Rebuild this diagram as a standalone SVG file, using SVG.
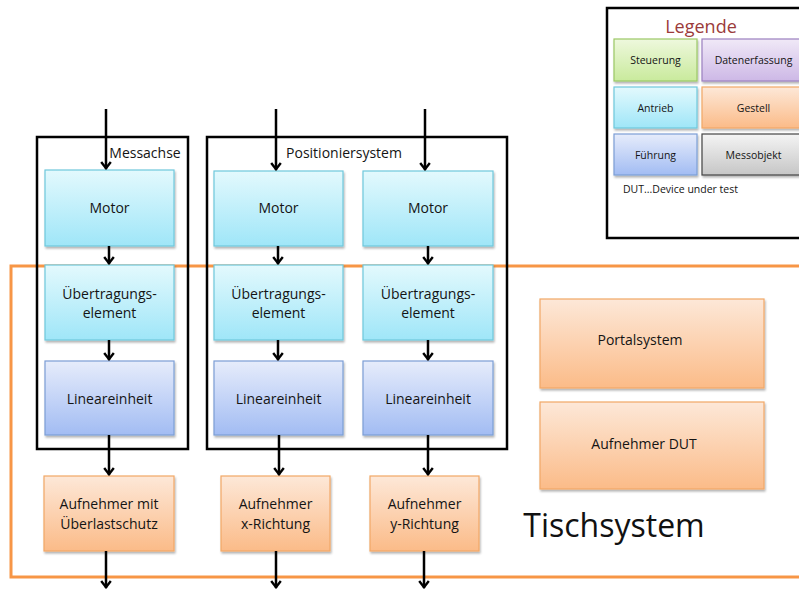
<svg xmlns="http://www.w3.org/2000/svg" width="799" height="589" viewBox="0 0 799 589">
  <defs>
    <linearGradient id="gCyan" x1="0" y1="0" x2="0" y2="1">
      <stop offset="0" stop-color="#e3f9fd"/>
      <stop offset="1" stop-color="#9fe6f8"/>
    </linearGradient>
    <linearGradient id="gBlue" x1="0" y1="0" x2="0" y2="1">
      <stop offset="0" stop-color="#e6ecfb"/>
      <stop offset="1" stop-color="#a2bcf3"/>
    </linearGradient>
    <linearGradient id="gOrange" x1="0" y1="0" x2="0" y2="1">
      <stop offset="0" stop-color="#fde8d8"/>
      <stop offset="1" stop-color="#fbbb88"/>
    </linearGradient>
    <linearGradient id="gGreen" x1="0" y1="0" x2="0" y2="1">
      <stop offset="0" stop-color="#eef8dd"/>
      <stop offset="1" stop-color="#c9ea9c"/>
    </linearGradient>
    <linearGradient id="gPurple" x1="0" y1="0" x2="0" y2="1">
      <stop offset="0" stop-color="#f0e9f7"/>
      <stop offset="1" stop-color="#cdb8e6"/>
    </linearGradient>
    <linearGradient id="gGray" x1="0" y1="0" x2="0" y2="1">
      <stop offset="0" stop-color="#f4f4f4"/>
      <stop offset="1" stop-color="#c6c6c6"/>
    </linearGradient>
    <filter id="shadow" x="-10%" y="-10%" width="125%" height="130%">
      <feGaussianBlur in="SourceAlpha" stdDeviation="1.2"/>
      <feOffset dx="1" dy="2" result="o"/>
      <feComponentTransfer><feFuncA type="linear" slope="0.3"/></feComponentTransfer>
      <feMerge><feMergeNode/><feMergeNode in="SourceGraphic"/></feMerge>
    </filter>
    <!-- open chevron head, drawn along +x so orient="auto" turns it with the line -->
    <marker id="arrow" viewBox="0 0 10 12" refX="9" refY="6" markerWidth="10" markerHeight="12" markerUnits="userSpaceOnUse" orient="auto">
      <path d="M2,1.2 L8.2,6 L2,10.8" fill="none" stroke="#000" stroke-width="2.4" stroke-linejoin="miter"/>
    </marker>
  </defs>
  <style>
    text { font-family: "Open Sans", "Liberation Sans", sans-serif; fill: #141414; text-anchor: middle; }
    .lbl { font-size: 14px; }
    .sm { font-size: 10.5px; }
    .frame { fill: none; stroke: #000; stroke-width: 2.5; }
    .cyan { fill: url(#gCyan); stroke: #6fc8dc; stroke-width: 1.2; filter: url(#shadow); }
    .blue { fill: url(#gBlue); stroke: #7c9ed6; stroke-width: 1.2; filter: url(#shadow); }
    .orange { fill: url(#gOrange); stroke: #f2a766; stroke-width: 1.2; filter: url(#shadow); }
    .green { fill: url(#gGreen); stroke: #9cc866; stroke-width: 1.2; filter: url(#shadow); }
    .purple { fill: url(#gPurple); stroke: #9b80c0; stroke-width: 1.2; filter: url(#shadow); }
    .gray { fill: url(#gGray); stroke: #444; stroke-width: 1.2; filter: url(#shadow); }
    .conn { stroke: #000; stroke-width: 2.5; fill: none; marker-end: url(#arrow); }
  </style>

  <rect width="799" height="589" fill="#fff"/>

  <!-- Tischsystem region -->
  <g id="tischsystem">
    <rect x="11" y="266" width="800" height="311" fill="none" stroke="#f79646" stroke-width="3"/>
    <text x="614" y="537" style="font-size:32px;fill:#111">Tischsystem</text>
  </g>

  <!-- Legend -->
  <g id="legende">
    <rect x="607" y="8" width="200" height="230" fill="#fff" stroke="#000" stroke-width="2.5"/>
    <text x="701" y="33" style="font-size:18px;fill:#9b3b3b">Legende</text>
    <rect class="green" x="614" y="39" width="83" height="42"/>
    <text class="sm" x="655.5" y="64">Steuerung</text>
    <rect class="purple" x="702" y="39" width="100" height="42"/>
    <text class="sm" x="753.5" y="64">Datenerfassung</text>
    <rect class="cyan" x="614" y="87" width="83" height="41"/>
    <text class="sm" x="655.5" y="112">Antrieb</text>
    <rect class="orange" x="702" y="87" width="100" height="41"/>
    <text class="sm" x="753.5" y="112">Gestell</text>
    <rect class="blue" x="614" y="134" width="83" height="41"/>
    <text class="sm" x="655.5" y="159">Führung</text>
    <rect class="gray" x="702" y="134" width="100" height="41"/>
    <text class="sm" x="753.5" y="159">Messobjekt</text>
    <text class="sm" x="623" y="193" style="text-anchor:start">DUT...Device under test</text>
  </g>

  <!-- Axis frames -->
  <g id="messachse">
    <rect class="frame" x="37" y="137" width="151" height="312"/>
    <text class="lbl" x="145" y="158">Messachse</text>
  </g>
  <g id="positioniersystem">
    <rect class="frame" x="207" y="137" width="300" height="312"/>
    <text class="lbl" x="344" y="158">Positioniersystem</text>
  </g>

  <!-- Column 1: Messachse -->
  <g id="motor1">
    <rect class="cyan" x="45" y="170" width="129" height="76"/>
    <text class="lbl" x="109.5" y="213">Motor</text>
  </g>
  <g id="uebertragung1">
    <rect class="cyan" x="45" y="265" width="129" height="75"/>
    <text class="lbl" x="109.5" y="299">Übertragungs-</text>
    <text class="lbl" x="109.5" y="318">element</text>
  </g>
  <g id="linear1">
    <rect class="blue" x="45" y="361" width="129" height="74"/>
    <text class="lbl" x="109.5" y="404">Lineareinheit</text>
  </g>
  <g id="aufnehmer1">
    <rect class="orange" x="44" y="476" width="130" height="75"/>
    <text class="lbl" x="109" y="509">Aufnehmer mit</text>
    <text class="lbl" x="109" y="529">Überlastschutz</text>
  </g>

  <!-- Column 2: x axis -->
  <g id="motor2">
    <rect class="cyan" x="214" y="171" width="129" height="75"/>
    <text class="lbl" x="278.5" y="213">Motor</text>
  </g>
  <g id="uebertragung2">
    <rect class="cyan" x="214" y="265" width="129" height="75"/>
    <text class="lbl" x="278.5" y="299">Übertragungs-</text>
    <text class="lbl" x="278.5" y="318">element</text>
  </g>
  <g id="linear2">
    <rect class="blue" x="214" y="361" width="129" height="74"/>
    <text class="lbl" x="278.5" y="404">Lineareinheit</text>
  </g>
  <g id="aufnehmer2">
    <rect class="orange" x="221" y="476" width="109" height="75"/>
    <text class="lbl" x="275.5" y="509">Aufnehmer</text>
    <text class="lbl" x="275.5" y="529">x-Richtung</text>
  </g>

  <!-- Column 3: y axis -->
  <g id="motor3">
    <rect class="cyan" x="363" y="171" width="130" height="75"/>
    <text class="lbl" x="428" y="213">Motor</text>
  </g>
  <g id="uebertragung3">
    <rect class="cyan" x="363" y="265" width="130" height="75"/>
    <text class="lbl" x="428" y="299">Übertragungs-</text>
    <text class="lbl" x="428" y="318">element</text>
  </g>
  <g id="linear3">
    <rect class="blue" x="363" y="361" width="130" height="74"/>
    <text class="lbl" x="428" y="404">Lineareinheit</text>
  </g>
  <g id="aufnehmer3">
    <rect class="orange" x="370" y="476" width="109" height="75"/>
    <text class="lbl" x="424.5" y="509">Aufnehmer</text>
    <text class="lbl" x="424.5" y="529">y-Richtung</text>
  </g>

  <!-- Table system parts -->
  <g id="portalsystem">
    <rect class="orange" x="540" y="299" width="224" height="89"/>
    <text class="lbl" x="640" y="345">Portalsystem</text>
  </g>
  <g id="aufnehmerDUT">
    <rect class="orange" x="540" y="402" width="224" height="87"/>
    <text class="lbl" x="644" y="449">Aufnehmer DUT</text>
  </g>

  <!-- Connectors -->
  <g id="connectors">
    <line class="conn" x1="106" y1="109" x2="106" y2="169"/>
    <line class="conn" x1="109" y1="246" x2="109" y2="264"/>
    <line class="conn" x1="109" y1="340" x2="109" y2="360"/>
    <line class="conn" x1="109" y1="435" x2="109" y2="475"/>
    <line class="conn" x1="106" y1="551" x2="106" y2="588"/>

    <line class="conn" x1="276" y1="109" x2="276" y2="170"/>
    <line class="conn" x1="278" y1="246" x2="278" y2="264"/>
    <line class="conn" x1="278" y1="340" x2="278" y2="360"/>
    <line class="conn" x1="279" y1="435" x2="279" y2="475"/>
    <line class="conn" x1="276" y1="551" x2="276" y2="588"/>

    <line class="conn" x1="425" y1="109" x2="425" y2="170"/>
    <line class="conn" x1="428" y1="246" x2="428" y2="264"/>
    <line class="conn" x1="428" y1="340" x2="428" y2="360"/>
    <line class="conn" x1="428" y1="435" x2="428" y2="475"/>
    <line class="conn" x1="424" y1="551" x2="424" y2="588"/>
  </g>
</svg>
